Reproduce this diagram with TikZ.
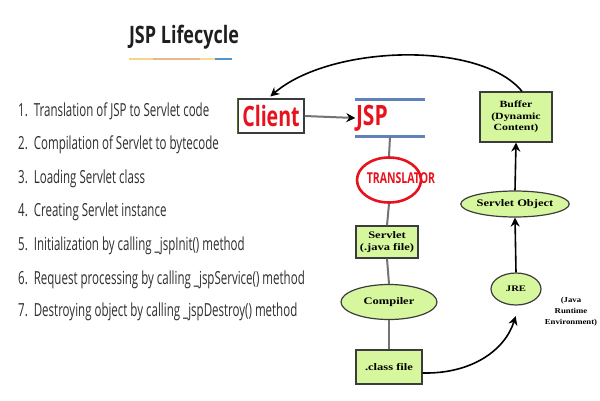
\documentclass[tikz,border=0pt]{standalone}
\usepackage{fontspec}
\setmainfont{Liberation Serif}
\newfontfamily\listfont[FakeStretch=0.64]{Open Sans}
\newfontfamily\headfont[FakeStretch=0.75]{Open Sans}
\newfontfamily\clientfont[FakeStretch=0.7]{Open Sans}
\newfontfamily\translfont[FakeStretch=0.7]{Open Sans}
\newfontfamily\boxfont[FakeStretch=1.25]{Liberation Serif}
\newfontfamily\notefont[FakeStretch=1.15]{Liberation Serif}
\usetikzlibrary{arrows.meta,shapes.geometric}
\definecolor{boxgreen}{RGB}{214,247,158}
\definecolor{jspblue}{RGB}{96,130,185}
\definecolor{txtred}{RGB}{232,18,28}
\definecolor{linegray}{RGB}{115,115,115}
\definecolor{bordergray}{RGB}{60,60,60}
\tikzset{
  listitem/.style={anchor=base west,inner sep=0pt,font=\listfont\fontsize{18}{20}\selectfont,text=black!82},
  greenbox/.style={draw=bordergray,line width=1.2pt,fill=boxgreen,align=center,inner sep=1pt,font=\boxfont\bfseries\fontsize{10}{11.5}\selectfont},
  greenell/.style={ellipse,draw=bordergray,line width=1.2pt,fill=boxgreen,align=center,inner sep=0pt,font=\boxfont\bfseries\fontsize{10}{12}\selectfont},
  grayline/.style={draw=linegray,line width=2pt},
  blackarrow/.style={draw=black,line width=1.6pt,-{Stealth[length=9pt,width=9pt]}},
}
\begin{document}
\begin{tikzpicture}[x=1pt,y=-1pt]
\useasboundingbox (0,0) rectangle (600,400);
% title
\node[font=\headfont\bfseries\fontsize{24}{28}\selectfont,text=black!88,inner sep=0pt] (title) at (184,37) {JSP Lifecycle};
\draw[line width=2pt,color={rgb,255:red,242;green,214;blue,140}] (129,59) -- (153,59);
\draw[line width=2pt,color={rgb,255:red,232;green,184;blue,140}] (153,59) -- (200,59);
\draw[line width=2pt,color={rgb,255:red,244;green,220;blue,150}] (200,59) -- (215,59);
\draw[line width=2pt,color={rgb,255:red,80;green,150;blue,205}] (215,59) -- (232,59);
% list
\node[listitem] (l1) at (18,116) {1.\ \ Translation of JSP to Servlet code};
\node[listitem] (l2) at (18,149) {2.\ \ Compilation of Servlet to bytecode};
\node[listitem] (l3) at (18,183) {3.\ \ Loading Servlet class};
\node[listitem] (l4) at (18,216) {4.\ \ Creating Servlet instance};
\node[listitem] (l5) at (18,250) {5.\ \ Initialization by calling \_jspInit() method};
\node[listitem] (l6) at (18,284) {6.\ \ Request processing by calling \_jspService() method};
\node[listitem] (l7) at (18,316) {7.\ \ Destroying object by calling \_jspDestroy() method};
% client
\node[draw=bordergray,line width=1.2pt,fill=white,minimum width=66pt,minimum height=34pt,inner sep=0pt,
      font=\clientfont\bfseries\fontsize{28}{30}\selectfont,text=txtred] (client) at (271,116) {Client};
\draw[draw={rgb,255:red,80;green,110;blue,30},line width=1.5pt] (client.north west) -- (client.south west);
% JSP
\node[minimum width=69pt,minimum height=37pt,inner sep=0pt,text width=68pt,align=left,
      font=\headfont\bfseries\fontsize{28}{30}\selectfont,text=txtred] (jsp) at (390,118) {JSP};
\draw[jspblue,line width=3pt] (jsp.north west) -- (jsp.north east);
\draw[jspblue,line width=3pt] (jsp.south west) -- (jsp.south east);
\draw[grayline,-{Stealth[length=9pt,width=9pt,black]}] (client.east) -- (jsp.west);
% translator
\node[ellipse,draw=txtred,line width=2.6pt,minimum width=64pt,minimum height=45pt,inner sep=0pt] (trans) at (389,180) {};
\node[font=\translfont\bfseries\fontsize{15}{16}\selectfont,text=txtred,inner sep=0pt] (translbl) at (401,178) {TRANSLATOR};
% chain
\node[greenbox,minimum width=62pt,minimum height=32pt] (servlet) at (387,242) {Servlet\\(.java file)};
\node[greenell,minimum width=96pt,minimum height=35pt] (compiler) at (389,302) {Compiler};
\node[greenbox,minimum width=66pt,minimum height=34pt] (classf) at (389,367) {.class file};
\node[greenell,minimum width=50pt,minimum height=32pt,font=\boxfont\bfseries\fontsize{8.5}{11}\selectfont] (jre) at (516,289) {JRE};
\node[align=center,inner sep=0pt,font=\notefont\bfseries\fontsize{7.6}{11}\selectfont] (jrelbl) at (571,312) {(Java\\Runtime\\Environment)};
\node[greenell,minimum width=100pt,minimum height=26pt] (sobj) at (515,204) {Servlet Object};
\node[greenbox,minimum width=72pt,minimum height=50pt,font=\boxfont\bfseries\fontsize{9.5}{11.5}\selectfont] (buffer) at (516,117) {Buffer\\(Dynamic\\Content)};
% gray connectors
\draw[grayline] (jsp.south) -- (trans.north);
\draw[grayline] (trans.south) -- (servlet.north);
\draw[grayline] (servlet.south) -- (compiler.north);
\draw[grayline] (compiler.south) -- (classf.north);
% black arrows
\draw[blackarrow,shorten >=11pt] ([yshift=-6pt]classf.east) .. controls (472,374) and (505,350) .. ([xshift=3pt]jre.south);
\draw[blackarrow] (jre.north) -- (sobj.south);
\draw[blackarrow] (sobj.north) -- (buffer.south);
\draw[blackarrow,shorten >=3pt] ([xshift=6pt]buffer.north) .. controls (480,40) and (330,45) .. ([xshift=-3pt]client.north);
\end{tikzpicture}
\end{document}
